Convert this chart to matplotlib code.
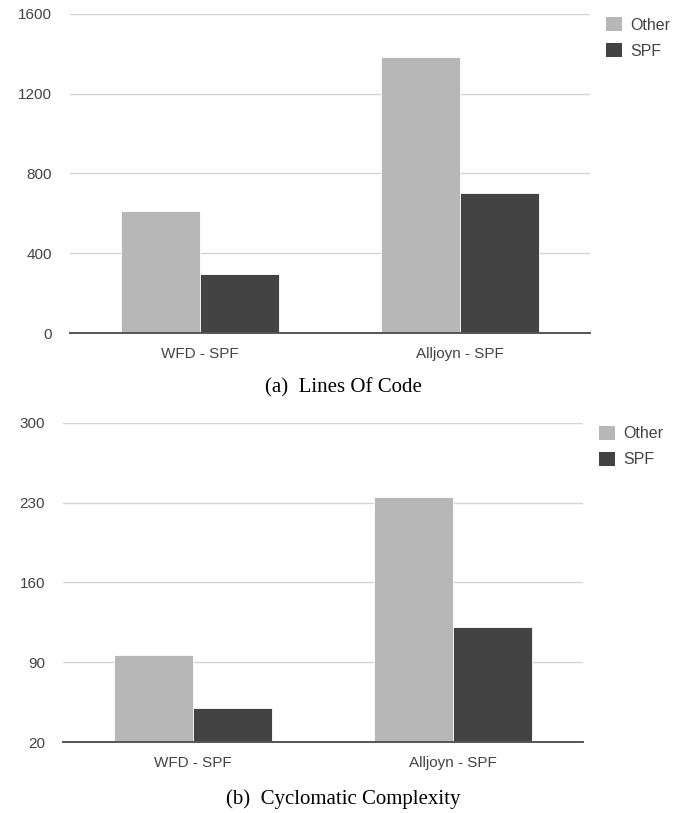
import numpy as np
import matplotlib
matplotlib.use("Agg")
import matplotlib.pyplot as plt
from matplotlib.patches import Patch

categories = ["WFD - SPF", "Alljoyn - SPF"]
series = ["Other", "SPF"]

loc_other = [610, 1385]
loc_spf = [295, 700]
loc_ticks = [0, 400, 800, 1200, 1600]

cc_other = [96, 235]
cc_spf = [50, 121]
cc_ticks = [20, 90, 160, 230, 300]

colors = ["#b7b7b7", "#434343"]
plt.rcParams["font.family"] = ["Liberation Sans", "DejaVu Sans"]

fig = plt.figure(figsize=(6.89, 8.13), dpi=100)


def bar_panel(rect, other, spf, ticks, caption, cap_y):
    ax = fig.add_axes(rect)
    x = np.arange(len(categories))
    w = 0.305
    ax.bar(x - w / 2, other, w, bottom=0, color=colors[0], edgecolor="white",
           linewidth=0.6, zorder=2)
    ax.bar(x + w / 2, spf, w, bottom=0, color=colors[1], edgecolor="white",
           linewidth=0.6, zorder=2)
    ax.set_xlim(-0.5, len(categories) - 0.5)
    ax.set_ylim(ticks[0], ticks[-1])
    ax.set_yticks(ticks)
    ax.set_yticklabels([str(t) for t in ticks])
    ax.set_xticks(x)
    ax.set_xticklabels(categories)
    ax.yaxis.grid(True, color="#d4d4d4", linewidth=1.0, zorder=0)
    ax.set_axisbelow(True)
    for s in ["top", "right", "left"]:
        ax.spines[s].set_visible(False)
    ax.spines["bottom"].set_color("#555555")
    ax.spines["bottom"].set_linewidth(1.4)
    ax.spines["bottom"].set_zorder(3)
    ax.tick_params(axis="both", length=0, labelsize=11, colors="#444444")
    ax.tick_params(axis="y", pad=13)
    ax.tick_params(axis="x", pad=10)
    handles = [Patch(facecolor=c, edgecolor="none") for c in colors]
    ax.legend(handles, series, loc="upper left", bbox_to_anchor=(1.004, 1.035),
              frameon=False, fontsize=11.5, handlelength=1.0, handleheight=1.0,
              handletextpad=0.5, labelspacing=0.65, labelcolor="#444444")
    fig.text(0.498, cap_y, caption, ha="center", va="center",
             family=["Liberation Serif", "DejaVu Serif"], fontsize=15)
    return ax


bar_panel([0.1016, 0.5904, 0.7547, 0.3924], loc_other, loc_spf, loc_ticks,
          "(a)  Lines Of Code", 1 - 388 / 813)
bar_panel([0.0914, 0.0873, 0.7547, 0.3928], cc_other, cc_spf, cc_ticks,
          "(b)  Cyclomatic Complexity", 1 - 799 / 813)

fig.savefig("out.png", dpi=100)
